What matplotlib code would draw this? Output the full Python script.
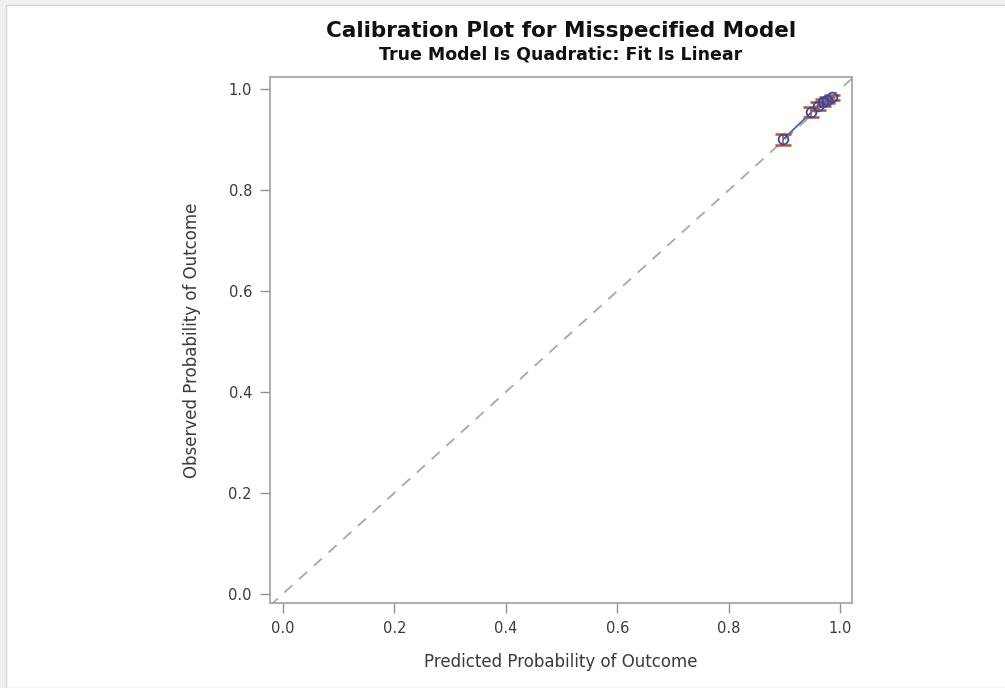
import numpy as np
import matplotlib.pyplot as plt
from matplotlib.patches import Rectangle

# data
predicted = [0.898, 0.948, 0.960, 0.969, 0.977, 0.986]
observed = [0.901, 0.954, 0.966, 0.974, 0.978, 0.984]
err = [0.011, 0.010, 0.008, 0.007, 0.006, 0.005]
ticks = [0.0, 0.2, 0.4, 0.6, 0.8, 1.0]

plt.rcParams['font.family'] = ['DejaVu Sans']

fig = plt.figure(figsize=(10.05, 6.88), dpi=100)
fig.patch.set_facecolor('#f0f0f0')
fig.patches.append(Rectangle((6 / 1005, 0), 1, 1 - 5 / 688, transform=fig.transFigure,
                             facecolor='white', edgecolor='#d8d8d8', lw=1, zorder=-10))

ax = fig.add_axes([270 / 1005, 1 - 603 / 688, 582 / 1005, 526 / 688])
ax.set_zorder(2)
ax.set_facecolor('white')

# reference diagonal
d = np.array([-0.05, 1.05])
ax.plot(d, d, color='#a8a8a8', lw=1.3, ls=(0, (6, 5)), zorder=1)

# smoothed line through points
ax.plot(predicted, observed, color='#3060c0', lw=1.2, zorder=2)

ax.errorbar(predicted, observed, yerr=err, fmt='none',
            ecolor='#c0502a', elinewidth=1.2, capsize=6, capthick=1.8, zorder=3)
ax.plot(predicted, observed, 'o', mfc='none', mec='#2a4bb8', mew=1.3, ms=7, zorder=4)

ax.set_xlim(-0.023, 1.021)
ax.set_ylim(-0.018, 1.024)
ax.set_xticks(ticks)
ax.set_yticks(ticks)
ax.set_xticklabels([f'{t:.1f}' for t in ticks])
ax.set_yticklabels([f'{t:.1f}' for t in ticks])
ax.tick_params(direction='out', length=7, width=1, color='#909090',
               labelsize=10.5, labelcolor='#3a3a3a', pad=6)
for s in ax.spines.values():
    s.set_color('#a0a0a0')
    s.set_linewidth(1.2)

ax.set_xlabel('Predicted Probability of Outcome', fontsize=12, color='#3a3a3a', labelpad=12)
ax.set_ylabel('Observed Probability of Outcome', fontsize=12, color='#3a3a3a', labelpad=20)

fig.text(0.558, 1 - 31 / 688, 'Calibration Plot for Misspecified Model', ha='center', va='center',
         fontsize=15.5, fontweight='bold', color='#111111')
fig.text(0.558, 1 - 55 / 688, 'True Model Is Quadratic: Fit Is Linear', ha='center', va='center',
         fontsize=12.5, fontweight='bold', color='#111111')

fig.savefig('out.png', dpi=100, facecolor=fig.get_facecolor())
